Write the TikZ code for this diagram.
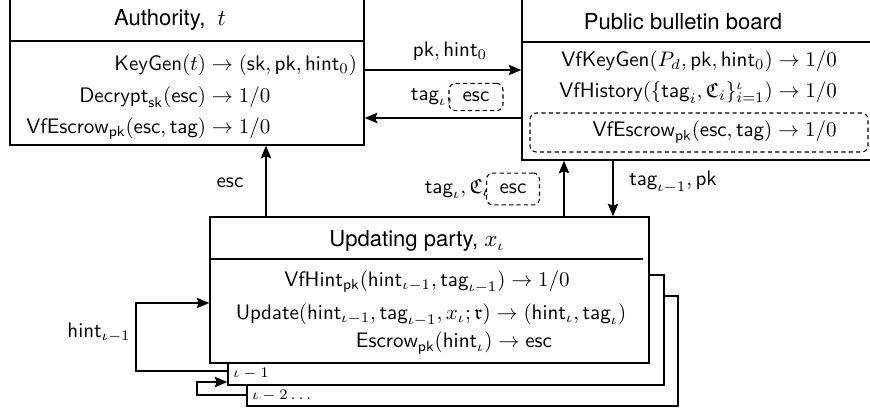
\documentclass[tikz,border=0pt]{standalone}
\usepackage{amsmath,amssymb}
\usepackage{fontspec}
\newfontfamily\heros{TeX Gyre Heros}
\usepackage{tikz}
\usetikzlibrary{arrows.meta, positioning, fit, calc}
\newcommand{\fn}[1]{\mathsf{#1}}
\tikzset{
  partybox/.style={
    draw, line width=0.7pt, inner sep=0pt, fill=white
  },
  partyline/.style={line width=0.7pt},
  partytitle/.style={
    font=\heros\fontsize{10.5}{12}\selectfont, inner sep=0pt
  },
  callbox/.style={inner sep=0pt},
  escbox/.style={
    draw, line width=0.5pt, dash pattern=on 2pt off 1.5pt,
    rounded corners=3pt, inner sep=0pt
  },
  flowarrow/.style={
    -{Stealth[length=6pt, width=5pt, inset=1pt]}, line width=0.6pt
  },
  flowlabel/.style={inner sep=0pt},
  roundlabel/.style={font=\scriptsize, inner sep=0pt},
}

\begin{document}
\begin{tikzpicture}[x=0.476pt, y=-0.476pt]
  \path[use as bounding box, clip] (0,0) rectangle (870,410);

  % authority
  \node[partybox, fit={(10,-5) (364,145)}] (auth) {};
  \node[partytitle] (authtitle) at (170,20) {Authority, \ $t$};
  \coordinate (authsplit) at (0,41);
  \draw[partyline] (auth.west |- authsplit) -- (auth.east |- authsplit);
  \node[callbox, anchor=west] (authcalls) at (26,97) {$\begin{aligned}
      \fn{KeyGen}(t) &\to (\fn{sk}, \fn{pk}, \fn{hint}_0)\\
      \fn{Decrypt}_{\fn{sk}}(\fn{esc}) &\to 1/0\\
      \fn{VfEscrow}_{\fn{pk}}(\fn{esc}, \fn{tag}) &\to 1/0
    \end{aligned}$};

  % bulletin board
  \node[partybox, fit={(522,-5) (900,160)}] (board) {};
  \node[partytitle] (boardtitle) at (683,22) {Public bulletin board};
  \coordinate (boardsplit) at (0,42);
  \draw[partyline] (board.west |- boardsplit) -- (board.east |- boardsplit);
  \node[callbox, anchor=west] (boardcalls) at (559,77) {$\begin{aligned}
      \fn{VfKeyGen}(P_d, \fn{pk}, \fn{hint}_0) &\to 1/0\\
      \fn{VfHistory}(\{\fn{tag}_i, \mathfrak{C}_i\}_{i=1}^{\iota}) &\to 1/0
    \end{aligned}$};
  \node[escbox, fit={(530,113) (868,152)}] (boardesc) {};
  \node[callbox, anchor=east] (boardvf) at (837,132)
    {$\fn{VfEscrow}_{\fn{pk}}(\fn{esc}, \fn{tag}) \to 1/0$};

  % updating party, earlier rounds behind it
  \node[partybox, fit={(247,296) (678,406)}] (prev2) {};
  \node[partybox, fit={(228,275) (664,385)}] (prev1) {};
  \node[roundlabel, anchor=west] (prev1lab) at (233,374) {$\iota-1$};
  \node[roundlabel, anchor=west] (prev2lab) at (252,396) {$\iota-2\ldots$};
  \node[partybox, fit={(210,217) (649,363)}] (upd) {};
  \node[partytitle] (updtitle) at (417,241) {Updating party, $x_\iota$};
  \coordinate (updsplit) at (643,259);
  \draw[partyline] (upd.west |- updsplit) -- (updsplit);
  \node[callbox] (updhint) at (427,282)
    {$\fn{VfHint}_{\fn{pk}}(\fn{hint}_{\iota-1}, \fn{tag}_{\iota-1}) \to 1/0$};
  \node[callbox] (updstep) at (431,315)
    {$\fn{Update}(\fn{hint}_{\iota-1}, \fn{tag}_{\iota-1}, x_\iota; \mathfrak{r}) \to (\fn{hint}_\iota, \fn{tag}_\iota)$};
  \node[callbox] (updesc) at (454,343)
    {$\fn{Escrow}_{\fn{pk}}(\fn{hint}_\iota) \to \fn{esc}$};

  % authority <-> board
  \draw[flowarrow] (auth.east) -- (auth.east -| board.west);
  \node[flowlabel] (pklab) at (450,51) {$\fn{pk}, \fn{hint}_0$};
  \coordinate (backlvl) at (0,118);
  \draw[flowarrow] (board.west |- backlvl) -- (auth.east |- backlvl);
  \node[escbox, minimum width=25.7pt, minimum height=12.9pt] (escback) at (476,97) {$\fn{esc}$};
  \node[flowlabel, left=-2pt of escback] (tagback) {$\fn{tag}_\iota,$};

  % updating party -> authority, board
  \coordinate (escup) at (266,0);
  \draw[flowarrow] (upd.north -| escup) -- (auth.south -| escup);
  \node[flowlabel] (esclab) at (230,183) {$\fn{esc}$};
  \coordinate (tagup) at (564,0);
  \coordinate (tagdown) at (613,0);
  \draw[flowarrow] (upd.north -| tagup) -- (board.south -| tagup);
  \draw[flowarrow] (board.south -| tagdown) -- (upd.north -| tagdown);
  \node[escbox, minimum width=25.2pt, minimum height=15.2pt] (escpost) at (513,189) {$\fn{esc}$};
  \node[flowlabel, left=-2pt of escpost] (tagpost) {$\fn{tag}_\iota, \mathfrak{C}_\iota$};
  \node[flowlabel] (tagprev) at (673,182) {$\fn{tag}_{\iota-1}, \fn{pk}$};

  % hints handed on from round to round
  \coordinate (hintbase) at (136,371);
  \coordinate (hintturn) at (136,303);
  \draw[flowarrow] (prev1.west |- hintbase) -- (hintbase) -- (hintturn) -- (upd.west |- hintturn);
  \node[flowlabel, anchor=east] (hintlab) at (131,333) {$\fn{hint}_{\iota-1}$};
  \coordinate (prevbase) at (197,395);
  \coordinate (prevturn) at (197,382);
  \draw[flowarrow] (prev2.west |- prevbase) -- (prevbase) -- (prevturn) -- (prev1.west |- prevturn);
\end{tikzpicture}
\end{document}
